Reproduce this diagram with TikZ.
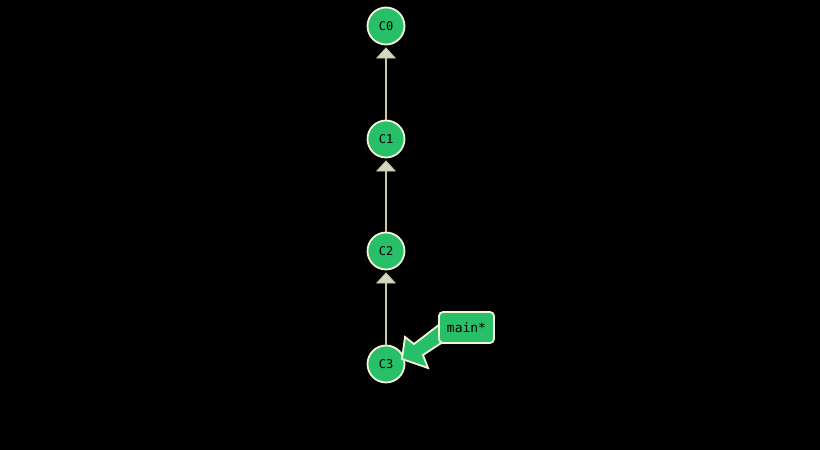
\documentclass[tikz,border=0pt]{standalone}
\usepackage{fontspec}
\setmonofont{DejaVu Sans Mono}
\usetikzlibrary{arrows.meta}
\definecolor{cgreen}{HTML}{27BF68}
\definecolor{cream}{HTML}{F4F4D8}
\definecolor{lnk}{HTML}{C8C8A4}
\definecolor{headc}{HTML}{D6D6C4}
\begin{document}
\begin{tikzpicture}[x=1pt,y=-1pt,
  commit/.style={circle,draw=cream,line width=1.8pt,fill=cgreen,minimum size=37pt,inner sep=0pt,font=\ttfamily\fontsize{12}{12}\selectfont,text=black},
  link/.style={draw=lnk,line width=2pt,-{Triangle[width=20pt,length=11pt,fill=headc,line width=0.8pt]},shorten >=2pt,shorten <=0pt},
  branch/.style={draw=cream,line width=1.8pt,fill=cgreen,rounded corners=4pt,minimum width=55pt,minimum height=31pt,inner sep=2pt,font=\ttfamily\fontsize{13}{13}\selectfont,text=black}]
\fill[black] (0,0) rectangle (820,450);
\useasboundingbox (0,0) rectangle (820,450);
\node[commit] (c0) at (386,26) {C0};
\node[commit] (c1) at (386,139) {C1};
\node[commit] (c2) at (386,251) {C2};
\node[commit] (c3) at (386,364) {C3};
\draw[link] (c1.north) -- (c0.south);
\draw[link] (c2.north) -- (c1.south);
\draw[link] (c3.north) -- (c2.south);
\filldraw[fill=cgreen,draw=cream,line width=1.8pt,line join=miter]
  (402,359) -- (405,337) -- (414,344) -- (440,324) -- (449,338) -- (423,355) -- (428,368) -- cycle;
\node[branch] (m) at (466.5,327.5) {main*};
\end{tikzpicture}
\end{document}
